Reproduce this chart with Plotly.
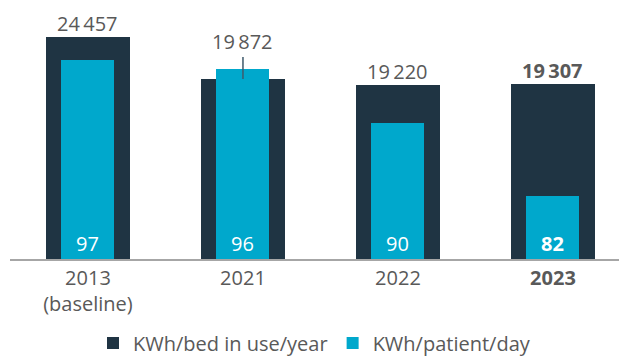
import plotly.graph_objects as go

# Energy consumption data
categories = ["2013", "2021", "2022", "2023"]
tick_labels = ["2013<br>(baseline)", "2021", "2022", "<b>2023</b>"]
kwh_bed_year = [24457, 19872, 19220, 19307]
kwh_patient_day = [97, 96, 90, 82]
highlight = [False, False, False, True]
# the bed/year label is lifted clear of a light bar that rises above the dark one
lifted_label = [False, True, False, False]

DARK = "#1f3443"
LIGHT = "#00a8cc"
GREY = "#595959"
FONT = "Open Sans"


def fmt(v):
    return f"{v:,}".replace(",", "\u2009")


def emph(s, bold):
    return f"<b>{s}</b>" if bold else s


hidden_axis = dict(showticklabels=False, showgrid=False, zeroline=False,
                   showline=False, ticks="")

fig = go.Figure()
fig.add_trace(go.Bar(
    x=categories, y=kwh_bed_year, name="KWh/bed in use/year",
    marker=dict(color=DARK, line=dict(width=0)), width=0.542, yaxis="y",
))
fig.add_trace(go.Bar(
    x=categories, y=kwh_patient_day, name="KWh/patient/day",
    marker=dict(color=LIGHT, line=dict(width=0)), width=0.342, yaxis="y2",
))

# category labels look numeric, so annotations are placed by category index
annotations = []
for i, cat in enumerate(categories):
    text = emph(fmt(kwh_bed_year[i]), highlight[i])
    if lifted_label[i]:
        annotations.append(dict(
            x=i, y=kwh_bed_year[i], xref="x", yref="y", text=text,
            showarrow=True, arrowhead=0, arrowwidth=1.5, arrowcolor="#3f5a6b",
            ax=0, ay=-37, standoff=0,
            font=dict(family=FONT, size=20, color=GREY),
        ))
    else:
        annotations.append(dict(
            x=i, y=kwh_bed_year[i], xref="x", yref="y", text=text,
            showarrow=False, yanchor="bottom", yshift=-2,
            font=dict(family=FONT, size=20, color=GREY),
        ))
    annotations.append(dict(
        x=i, y=0, xref="x", yref="paper",
        text=emph(str(kwh_patient_day[i]), highlight[i]),
        showarrow=False, yanchor="bottom", yshift=0,
        font=dict(family=FONT, size=20, color="white"),
    ))

fig.update_layout(
    width=619, height=358,
    margin=dict(l=10, r=0, t=10, b=99, autoexpand=False),
    paper_bgcolor="white", plot_bgcolor="white",
    barmode="overlay", bargap=0,
    font=dict(family=FONT, size=20, color=GREY),
    showlegend=True,
    legend=dict(orientation="h", x=0.5, xanchor="center",
                yref="container", y=0.042, yanchor="middle",
                font=dict(family=FONT, size=20, color=GREY), traceorder="normal"),
    xaxis=dict(
        type="category", tickmode="array", tickvals=categories, ticktext=tick_labels,
        range=[-0.503, 3.426], showgrid=False, zeroline=False,
        showline=True, linecolor="#a6a6a6", linewidth=1.5, ticks="",
        tickfont=dict(family=FONT, size=20, color=GREY),
    ),
    yaxis=dict(range=[0, 27483], **hidden_axis),
    yaxis2=dict(range=[75.05, 102.51], overlaying="y", **hidden_axis),
    annotations=annotations,
)

fig.write_html("out.html")
